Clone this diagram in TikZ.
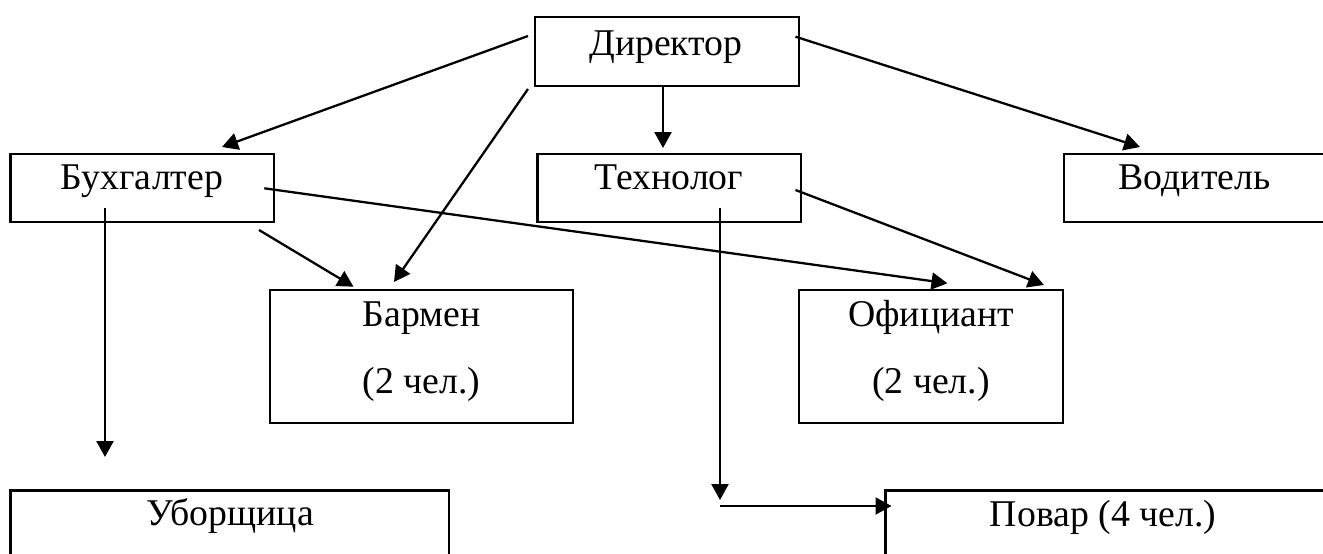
\documentclass[tikz,border=0pt]{standalone}
\usepackage{fontspec}
\setmainfont{Liberation Serif}
\usetikzlibrary{arrows.meta}
\begin{document}
\begin{tikzpicture}[x=0.02cm,y=-0.02cm,
  box/.style={draw, line width=1.4pt, inner sep=0pt, outer sep=0pt},
  lbl/.style={font=\fontsize{21.5}{26}\selectfont, inner sep=0pt, anchor=base},
  arr/.style={line width=1.3pt, -{Triangle[length=0.32cm,width=0.34cm]}}]
\fill[white] (0,0) rectangle (1323,554);
\useasboundingbox (0,0) rectangle (1323,554);
\clip (0,0) rectangle (1323,554);
% boxes
\node[box, minimum width={264*0.02cm}, minimum height={69*0.02cm}] (dir) at (667,51.5) {};
\node[box, minimum width={263.5*0.02cm}, minimum height={68*0.02cm}] (buh) at (142.25,188) {};
\node[box, minimum width={263.5*0.02cm}, minimum height={68*0.02cm}] (tech) at (669.25,188) {};
\node[box, minimum width={262*0.02cm}, minimum height={68*0.02cm}] (vod) at (1195,188) {};
\node[box, minimum width={303*0.02cm}, minimum height={133*0.02cm}] (bar) at (421.5,356.5) {};
\node[box, minimum width={264*0.02cm}, minimum height={133*0.02cm}] (ofi) at (931,356.5) {};
\node[box, minimum width={438.3*0.02cm}, minimum height={120*0.02cm}] (ubo) at (229.85,550.7) {};
\node[box, minimum width={440*0.02cm}, minimum height={120*0.02cm}] (pov) at (1105.6,550.7) {};
% labels
\node[lbl] (dirT) at (666,56) {Директор};
\node[lbl] (buhT) at (142,190) {Бухгалтер};
\node[lbl] (techT) at (669,190) {Технолог};
\node[lbl] (vodT) at (1194.5,190) {Водитель};
\node[lbl] (barT1) at (421.5,326) {Бармен};
\node[lbl] (barT2) at (421.5,393) {(2 чел.)};
\node[lbl] (ofiT1) at (931,326) {Официант};
\node[lbl] (ofiT2) at (931,393) {(2 чел.)};
\node[lbl] (uboT) at (230,525) {Уборщица};
\node[lbl] (povT) at (1103,526) {Повар (4 чел.)};
% connector end points
\coordinate (d1) at (528,36);    \coordinate (b1) at (222,147);
\coordinate (d2) at (528,89);    \coordinate (r1) at (394,282);
\coordinate (d3) at (663,86);    \coordinate (t1) at (663,148);
\coordinate (d4) at (795.5,36.7);\coordinate (v1) at (1140,147);
\coordinate (b2) at (105,208);   \coordinate (u1) at (105,457);
\coordinate (b3) at (259,230);   \coordinate (r2) at (353.5,286.7);
\coordinate (b4) at (264.3,188.3);\coordinate (o1) at (947.5,283.3);
\coordinate (t2) at (795.5,190); \coordinate (o2) at (1044,285);
\coordinate (t3) at (720,208);   \coordinate (k1) at (720,500);
\coordinate (k2) at (720,506);   \coordinate (p1) at (891.5,506);
% connectors
\draw[arr] (d1) -- (b1);
\draw[arr] (d2) -- (r1);
\draw[arr] (d3) -- (t1);
\draw[arr] (d4) -- (v1);
\draw[arr] (b2) -- (u1);
\draw[arr] (b3) -- (r2);
\draw[arr] (b4) -- (o1);
\draw[arr] (t2) -- (o2);
\draw[arr] (t3) -- (k1);
\draw[arr] (k2) -- (p1);
\end{tikzpicture}
\end{document}
